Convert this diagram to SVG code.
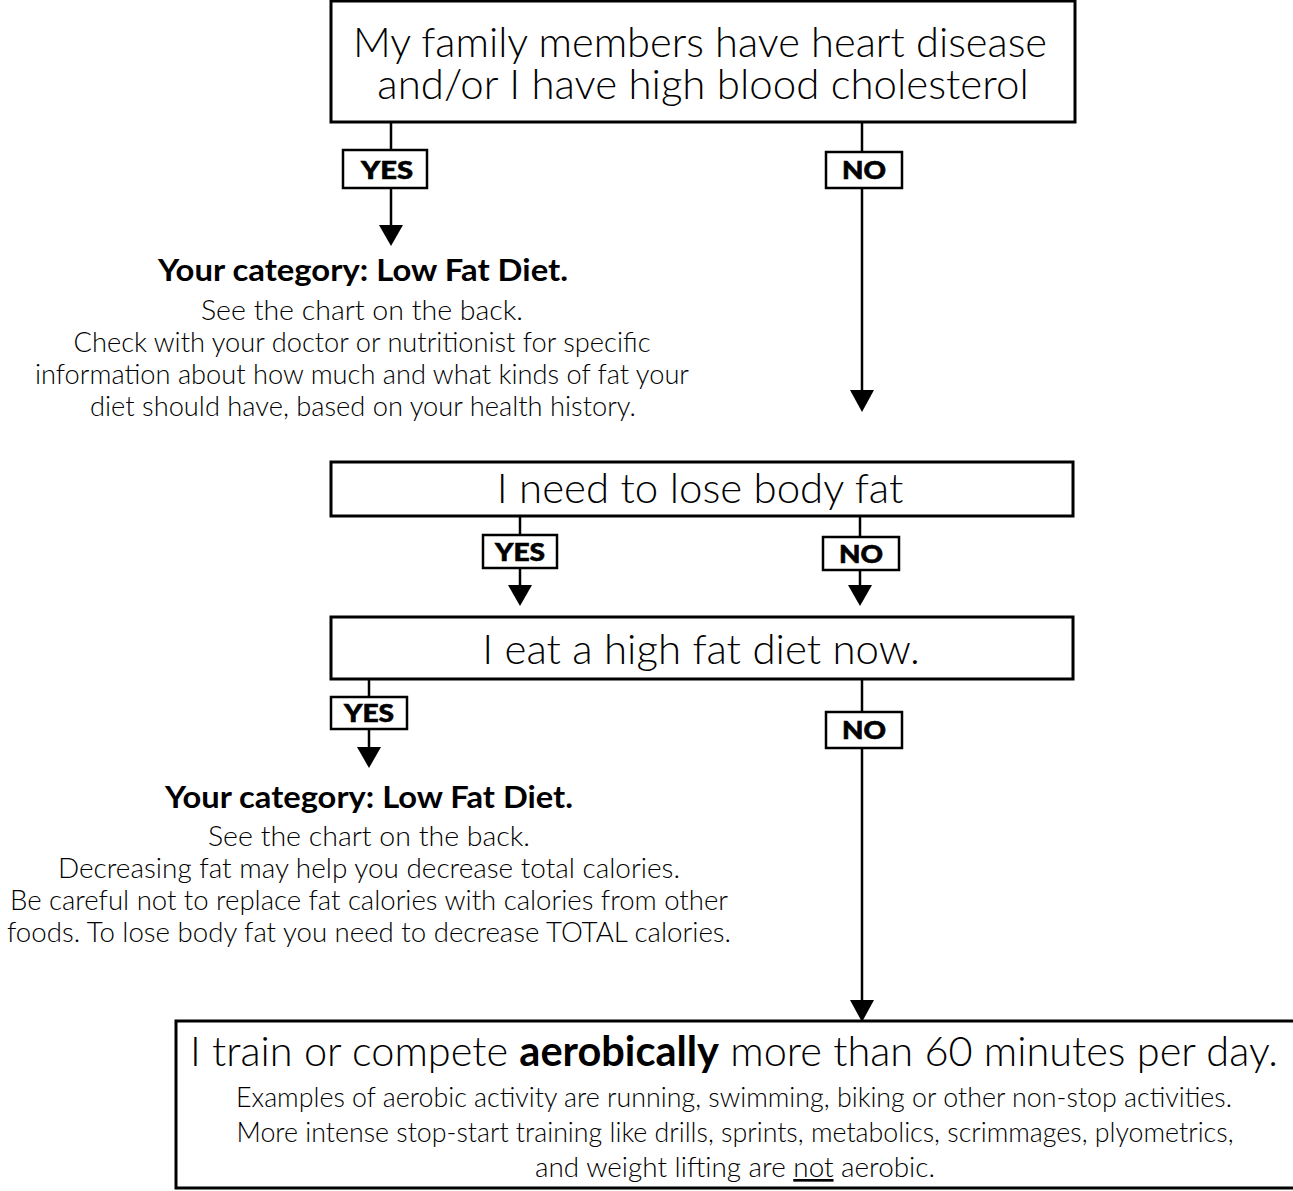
<svg xmlns="http://www.w3.org/2000/svg" width="1293" height="1191" viewBox="0 0 1293 1191">
<style>
.box{fill:#fff;stroke:#000;stroke-width:3}
.lbl{fill:#fff;stroke:#000;stroke-width:2.5}
.ln{stroke:#000;stroke-width:2.5;fill:none}
.ah{fill:#000}
.q{font-family:Lato,"Liberation Sans",sans-serif;font-weight:300;fill:#000;text-anchor:middle}
.big{font-size:42px}
.sm{font-size:26.5px}
.cat{font-family:Lato,"Liberation Sans",sans-serif;font-weight:700;font-size:30px;text-anchor:middle}
.yn{font-family:Lato,"Liberation Sans",sans-serif;font-weight:900;font-size:25px;text-anchor:middle;stroke:#000;stroke-width:0.6}
</style>
<rect width="1293" height="1191" fill="#fff"/>
<g id="connectors">
<line class="ln" x1="391" y1="122" x2="391" y2="150"/>
<line class="ln" x1="391" y1="188" x2="391" y2="228"/>
<polygon class="ah" points="379,225 403,225 391,246"/>
<line class="ln" x1="862" y1="122" x2="862" y2="152"/>
<line class="ln" x1="862" y1="188" x2="862" y2="392"/>
<polygon class="ah" points="850,390 874,390 862,412"/>
<line class="ln" x1="520" y1="516" x2="520" y2="535"/>
<line class="ln" x1="520" y1="568" x2="520" y2="587"/>
<polygon class="ah" points="508,585 532,585 520,606"/>
<line class="ln" x1="860" y1="516" x2="860" y2="537"/>
<line class="ln" x1="860" y1="570" x2="860" y2="587"/>
<polygon class="ah" points="848,585 872,585 860,606"/>
<line class="ln" x1="369" y1="679" x2="369" y2="697"/>
<line class="ln" x1="369" y1="729" x2="369" y2="750"/>
<polygon class="ah" points="357,747 381,747 369,768"/>
<line class="ln" x1="862" y1="679" x2="862" y2="712"/>
<line class="ln" x1="862" y1="748" x2="862" y2="1002"/>
<polygon class="ah" points="850,1000 874,1000 862,1022"/>
</g>
<g id="q1">
<rect class="box" x="331" y="1" width="744" height="121"/>
<text class="q big" x="700" y="57" textLength="694" lengthAdjust="spacingAndGlyphs">My family members have heart disease</text>
<text class="q big" x="703" y="99">and/or I have high blood cholesterol</text>
</g>
<g id="yes1"><rect class="lbl" x="343" y="150" width="84" height="38"/><text class="yn" x="387" y="179" textLength="52" lengthAdjust="spacingAndGlyphs">YES</text></g>
<g id="no1"><rect class="lbl" x="826" y="152" width="76" height="36"/><text class="yn" x="864" y="179" textLength="44" lengthAdjust="spacingAndGlyphs">NO</text></g>
<g id="r1">
<text class="cat" x="363" y="281" textLength="410" lengthAdjust="spacingAndGlyphs">Your category: Low Fat Diet.</text>
<text class="q sm" x="362" y="320" textLength="322" lengthAdjust="spacingAndGlyphs">See the chart on the back.</text>
<text class="q sm" x="362" y="352" textLength="577" lengthAdjust="spacingAndGlyphs">Check with your doctor or nutritionist for specific</text>
<text class="q sm" x="362" y="384" textLength="654" lengthAdjust="spacingAndGlyphs">information about how much and what kinds of fat your</text>
<text class="q sm" x="363" y="416" textLength="546" lengthAdjust="spacingAndGlyphs">diet should have, based on your health history.</text>
</g>
<g id="q2">
<rect class="box" x="331" y="462" width="742" height="54"/>
<text class="q big" x="700" y="503">I need to lose body fat</text>
</g>
<g id="yes2"><rect class="lbl" x="483" y="535" width="74" height="33"/><text class="yn" x="520" y="561" textLength="50" lengthAdjust="spacingAndGlyphs">YES</text></g>
<g id="no2"><rect class="lbl" x="823" y="537" width="76" height="33"/><text class="yn" x="861" y="563" textLength="44" lengthAdjust="spacingAndGlyphs">NO</text></g>
<g id="q3">
<rect class="box" x="331" y="617" width="742" height="62"/>
<text class="q big" x="701" y="664">I eat a high fat diet now.</text>
</g>
<g id="yes3"><rect class="lbl" x="331" y="697" width="76" height="32"/><text class="yn" x="369" y="722" textLength="50" lengthAdjust="spacingAndGlyphs">YES</text></g>
<g id="no3"><rect class="lbl" x="826" y="712" width="76" height="36"/><text class="yn" x="864" y="739" textLength="44" lengthAdjust="spacingAndGlyphs">NO</text></g>
<g id="r2">
<text class="cat" x="369" y="808" textLength="408" lengthAdjust="spacingAndGlyphs">Your category: Low Fat Diet.</text>
<text class="q sm" x="369" y="846" textLength="322" lengthAdjust="spacingAndGlyphs">See the chart on the back.</text>
<text class="q sm" x="369" y="878" textLength="622" lengthAdjust="spacingAndGlyphs">Decreasing fat may help you decrease total calories.</text>
<text class="q sm" x="369" y="910" textLength="718" lengthAdjust="spacingAndGlyphs">Be careful not to replace fat calories with calories from other</text>
<text class="q sm" x="369" y="942" textLength="724" lengthAdjust="spacingAndGlyphs">foods. To lose body fat you need to decrease TOTAL calories.</text>
</g>
<g id="q4">
<rect class="box" x="176" y="1021" width="1130" height="167"/>
<text class="q big" x="734" y="1066" textLength="1088" lengthAdjust="spacingAndGlyphs">I train or compete <tspan font-weight="700">aerobically</tspan> more than 60 minutes per day.</text>
<text class="q sm" x="734" y="1107" textLength="996" lengthAdjust="spacingAndGlyphs">Examples of aerobic activity are running, swimming, biking or other non-stop activities.</text>
<text class="q sm" x="735" y="1142" textLength="997" lengthAdjust="spacingAndGlyphs">More intense stop-start training like drills, sprints, metabolics, scrimmages, plyometrics,</text>
<text class="q sm" x="735" y="1177" textLength="400" lengthAdjust="spacingAndGlyphs">and weight lifting are <tspan text-decoration="underline">not</tspan> aerobic.</text>
</g>
</svg>
